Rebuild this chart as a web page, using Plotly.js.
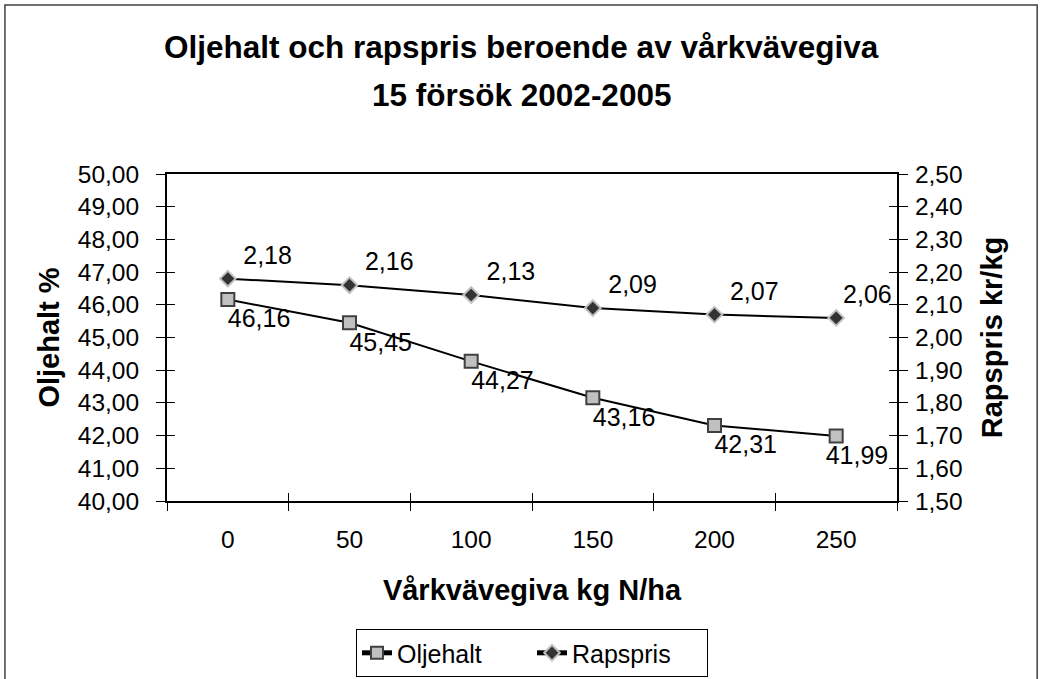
<!DOCTYPE html>
<html><head><meta charset="utf-8">
<script src="https://cdn.plot.ly/plotly-3.0.1.min.js"></script>
<style>html,body{margin:0;padding:0;background:#fff}#c{width:1042px;height:679px}</style>
</head><body><div id="c"></div>
<script>
const categories = ['0','50','100','150','200','250'];
const oljehalt = [46.16, 45.45, 44.27, 43.16, 42.31, 41.99];
const rapspris = [2.18, 2.16, 2.13, 2.09, 2.07, 2.06];
const leftTicks = [40,41,42,43,44,45,46,47,48,49,50];
const rightTicks = [1.5,1.6,1.7,1.8,1.9,2.0,2.1,2.2,2.3,2.4,2.5];

const F = 'Liberation Sans, Arial, sans-serif';
const sp = n => '\u00a0'.repeat(n);
const oljeTemplates = categories.map((c, i) => sp(i === categories.length - 1 ? 6 : 9) + '%{y:.2f}');
const rapsTemplates = categories.map((c, i) => i === categories.length - 1 ? sp(9) + '%{y:.2f}' : sp(1) + '%{y:.2f}');
const rapsPositions = categories.map((c, i) => i === categories.length - 1 ? 'top center' : 'top right');

const traces = [
  {x: categories, y: oljehalt, name: 'Oljehalt', type: 'scatter', mode: 'lines+markers+text',
   line: {color: '#000', width: 2}, cliponaxis: false,
   marker: {symbol: 'square', size: 13, color: '#c0c0c0', line: {color: '#404040', width: 2}},
   texttemplate: oljeTemplates, textposition: 'bottom center', textfont: {family: F, size: 25, color: '#000'},
   yaxis: 'y'},
  {x: categories, y: rapspris, name: 'Rapspris', type: 'scatter', mode: 'lines+markers+text',
   line: {color: '#000', width: 2}, cliponaxis: false,
   marker: {symbol: 'diamond', size: 12, color: '#333', line: {color: '#c0c0c0', width: 2}},
   texttemplate: rapsTemplates, textposition: rapsPositions, textfont: {family: F, size: 25, color: '#000'},
   yaxis: 'y2'},
  {x: [], y: [], xaxis: 'x2', yaxis: 'y', showlegend: false, hoverinfo: 'skip', mode: 'none', type: 'scatter'},
  {x: [], y: [], xaxis: 'x', yaxis: 'y3', showlegend: false, hoverinfo: 'skip', mode: 'none', type: 'scatter'},
  {x: [], y: [], xaxis: 'x', yaxis: 'y4', showlegend: false, hoverinfo: 'skip', mode: 'none', type: 'scatter'}
];
const layout = {
  width: 1042, height: 679,
  margin: {l: 167, r: 145, t: 174, b: 178, autoexpand: false},
  paper_bgcolor: '#fff', plot_bgcolor: '#fff',
  separators: ',.',
  font: {family: F, size: 24, color: '#000'},
  showlegend: true,
  legend: {orientation: 'h', x: 0.5, xanchor: 'center', y: -0.465, yanchor: 'middle',
           itemsizing: 'constant', entrywidth: 130,
           bordercolor: '#000', borderwidth: 1, font: {family: F, size: 25}},
  xaxis: {type: 'category', tickson: 'boundaries', ticks: 'outside', ticklen: 8, tickcolor: '#000',
          showline: true, linecolor: '#000', linewidth: 2, mirror: true, showgrid: false,
          tickfont: {family: F, size: 24.5}, range: [-0.5, 5.5], ticklabelstandoff: 16,
          title: {text: '<b>Vårkvävegiva kg N/ha</b>', font: {family: F, size: 29}, standoff: 27}},
  xaxis2: {overlaying: 'x', anchor: 'y', range: [0, 6], dtick: 1, tick0: 0, ticks: 'inside', ticklen: 8,
          tickcolor: '#000', showticklabels: false, showline: false, showgrid: false, zeroline: false},
  yaxis: {range: [40, 50], tickvals: leftTicks, tickformat: '.2f', ticks: 'outside', ticklen: 9,
          tickcolor: '#000', showline: true, linecolor: '#000', linewidth: 2, showgrid: false, zeroline: false,
          tickfont: {family: F, size: 24.5}, ticklabelstandoff: 12,
          title: {text: '<b>Oljehalt %</b>', font: {family: F, size: 29}, standoff: 10}},
  yaxis3: {overlaying: 'y', anchor: 'x', side: 'left', range: [40, 50], tickvals: leftTicks, ticks: 'inside', ticklen: 8,
          tickcolor: '#000', showticklabels: false, showline: false, showgrid: false, zeroline: false},
  yaxis2: {range: [1.5, 2.5], tickvals: rightTicks, tickformat: '.2f', overlaying: 'y', side: 'right', anchor: 'x',
          ticks: 'outside', ticklen: 9, tickcolor: '#000', showline: true, linecolor: '#000', linewidth: 2,
          showgrid: false, zeroline: false, tickfont: {family: F, size: 24.5}, ticklabelstandoff: 2,
          title: {text: '<b>Rapspris kr/kg</b>', font: {family: F, size: 29}, standoff: 20}},
  yaxis4: {overlaying: 'y', anchor: 'x', side: 'right', range: [1.5, 2.5], tickvals: rightTicks, ticks: 'inside', ticklen: 8,
          tickcolor: '#000', showticklabels: false, showline: false, showgrid: false, zeroline: false},
  annotations: [
    {text: '<b>Oljehalt och rapspris beroende av vårkvävegiva</b>', xref: 'paper', yref: 'paper',
     x: 0.486, y: 1.388, xanchor: 'center', yanchor: 'middle', showarrow: false, font: {family: F, size: 31.5}},
    {text: '<b>15 försök 2002-2005</b>', xref: 'paper', yref: 'paper',
     x: 0.486, y: 1.242, xanchor: 'center', yanchor: 'middle', showarrow: false, font: {family: F, size: 31.5}}
  ],
  shapes: [
    {type: 'rect', xref: 'paper', yref: 'paper', x0: -0.222, x1: 1.192, y0: -0.6, y1: 1.517,
     line: {color: '#404040', width: 1.5}, fillcolor: 'rgba(0,0,0,0)', layer: 'below'}
  ]
};
Plotly.newPlot('c', traces, layout, {displayModeBar: false, staticPlot: true});
</script></body></html>
